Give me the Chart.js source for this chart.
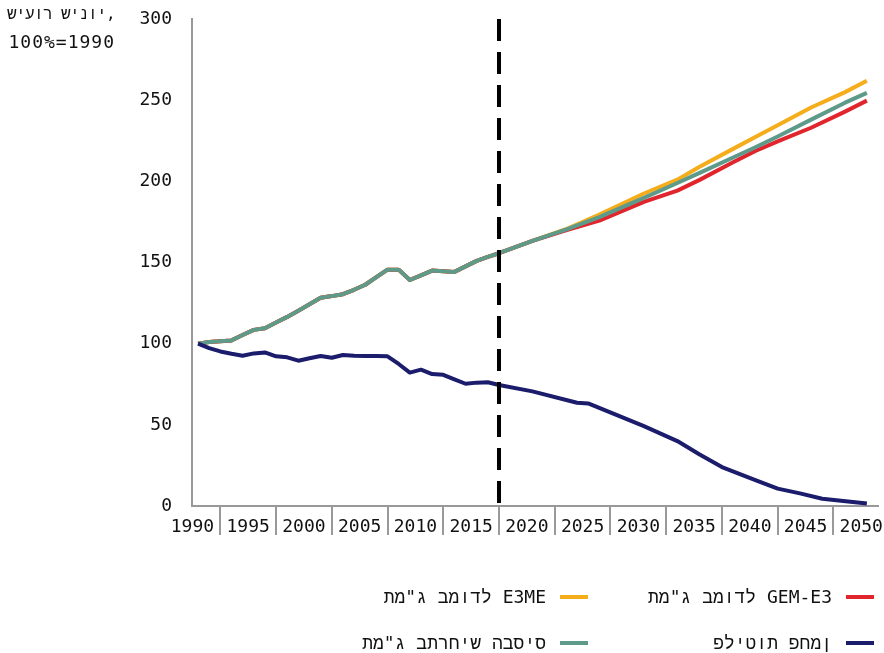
<!DOCTYPE html>
<html lang="he">
<head>
<meta charset="utf-8">
<title>GDP and carbon emissions</title>
<script src="https://cdn.jsdelivr.net/npm/chart.js@4.4.0/dist/chart.umd.min.js"></script>
<style>
  body { margin: 0; background: #fff; font-family: "DejaVu Sans Mono", "Liberation Mono", monospace; color: #111; }
  #wrap { position: relative; width: 884px; height: 653px; }
  #ytitle { position: absolute; right: 769px; top: 0; text-align: right; font-size: 18px; line-height: 28px; white-space: nowrap; }
  #ytitle div { direction: ltr; unicode-bidi: bidi-override; }
  .item { position: absolute; display: flex; align-items: center; font-size: 18px; line-height: 22px; white-space: nowrap; }
  .item .txt { direction: ltr; unicode-bidi: bidi-override; }
  .sw { width: 28px; height: 4px; margin-left: 14px; }
</style>
</head>
<body>
<div id="wrap">
  <canvas id="myChart" width="884" height="653"></canvas>
  <div id="ytitle"><div style="font-size:16px;letter-spacing:-0.6px">שיעור שינוי,</div><div style="letter-spacing:1px">100%=1990</div></div>
  <div id="legend"></div>
</div>
<script>
// historical years, same numbers for all 3 GDP lines
var histYears = [1990,1991,1992,1993,1994,1995,1996,1997,1998,1999,2000,2001,2002,2003,2004,2005,2006,2007,2008,2009,2010,2011,2012,2013,2014,2015,2016,2017]
var gdpHist = [100,101,101.5,102,105.3,108.5,109.5,113,116.5,120.3,124.3,128.3,129.3,130.5,133.2,136.3,141,145.6,145.6,139.2,142.1,145,144.6,144.2,147.6,151,153.5,155.7]
var coalHist = [100,97.3,95.2,93.8,92.6,94,94.6,92.2,91.6,89.5,91,92.4,91.3,93,92.6,92.4,92.4,92.2,87.5,82.2,84,81.3,80.8,78,75.3,76,76.2,74.5]

// projections
var projYears = [2020,2023,2026,2030,2033,2035,2038,2040,2042,2045,2048,2050]
var gdpBase = [163.3,170.2,178,189.8,199,205.2,214.7,221,227.6,238,248.3,254.5]
var gdpE3ME = [163.3,170.5,179.5,192.5,201,209,220,227.3,234.5,245.5,254.8,262]
var gdpGEM = [163.3,169.8,175.8,187.3,194.3,200.9,211.8,218.7,224.6,233,242.8,249.7]
var coalYears = [2020,2024,2025,2030,2033,2035,2037,2040,2042,2044,2046,2050]
var coalProj = [70.6,63.6,63.2,49.2,40,31.7,24,16,10.7,7.8,4.5,1.5]

var tickYears = [1990,1995,2000,2005,2010,2015,2020,2025,2030,2035,2040,2045,2050]
var yTicks = [0,50,100,150,200,250,300]
var splitYear = 2017

function pts(xs, ys) {
  var out = []
  for (var i = 0; i < xs.length; i++) out.push({x: xs[i], y: ys[i]})
  return out
}

var series = [
  {label: 'פליטות פחמן', color: '#1b1c6b', data: pts(histYears, coalHist).concat(pts(coalYears, coalProj))},
  {label: 'תמ"ג בתרחיש הבסיס', color: '#5e9a8a', data: pts(histYears, gdpHist).concat(pts(projYears, gdpBase))},
  {label: 'תמ"ג במודל GEM-E3', color: '#e1252d', data: pts(histYears, gdpHist).concat(pts(projYears, gdpGEM))},
  {label: 'תמ"ג במודל E3ME', color: '#f5ad1c', data: pts(histYears, gdpHist).concat(pts(projYears, gdpE3ME))}
]

var splitLine = {
  id: 'splitLine',
  afterDatasetsDraw: function (chart) {
    var ctx = chart.ctx, area = chart.chartArea
    var x = chart.scales.x.getPixelForValue(splitYear)
    ctx.save()
    ctx.strokeStyle = '#000'
    ctx.lineWidth = 4
    ctx.setLineDash([22, 11])
    ctx.beginPath()
    ctx.moveTo(x, area.top)
    ctx.lineTo(x, area.bottom)
    ctx.stroke()
    ctx.restore()
  }
}

new Chart('myChart', {
  type: 'line',
  data: {
    datasets: series.map(function (s) {
      return {label: s.label, data: s.data, borderColor: s.color, backgroundColor: s.color,
        borderWidth: 4, pointRadius: 0, fill: false, tension: 0, borderJoinStyle: 'round'}
    })
  },
  options: {
    responsive: false,
    animation: false,
    devicePixelRatio: 1,
    layout: {padding: {top: 19, right: 6, left: 0, bottom: 0}},
    plugins: {legend: {display: false}, tooltip: {enabled: false}},
    scales: {
      x: {
        type: 'linear',
        min: 1989.46,
        max: 2051,
        afterBuildTicks: function (axis) {
          // labels sit half a year left of the year, marks fall between them
          axis.ticks = tickYears.map(function (y) { return {value: y - 0.5} })
        },
        afterFit: function (axis) { axis.height = 147; axis.paddingRight = 0 },
        grid: {display: true, drawOnChartArea: false, drawTicks: true, tickLength: 29, offset: true, color: '#999', lineWidth: 2},
        border: {display: true, color: '#999', width: 2},
        ticks: {
          autoSkip: false, maxRotation: 0, padding: -18, color: '#111',
          font: {family: '"DejaVu Sans Mono", monospace', size: 18},
          callback: function (v) { return String(Math.round(v + 0.5)) }
        }
      },
      y: {
        min: 0,
        max: 300,
        afterBuildTicks: function (axis) {
          axis.ticks = yTicks.map(function (v) { return {value: v} })
        },
        afterFit: function (axis) { axis.width = 192; axis.paddingTop = 0; axis.paddingBottom = 0 },
        grid: {display: false, drawTicks: false},
        border: {display: true, color: '#999', width: 2},
        ticks: {padding: 20, color: '#111', font: {family: '"DejaVu Sans Mono", monospace', size: 18}}
      }
    }
  },
  plugins: [splitLine]
})

// legend: two columns, swatch to the right of the text
var legendOrder = [2, 3, 0, 1]
var colRight = [10, 296]
var rowMid = [597, 643]
var legendBox = document.getElementById('legend')
legendOrder.forEach(function (idx, k) {
  var s = series[idx]
  var item = document.createElement('div')
  item.className = 'item'
  item.style.right = colRight[k % 2] + 'px'
  item.style.top = (rowMid[Math.floor(k / 2)] - 11) + 'px'
  item.innerHTML = '<span class="txt"></span><span class="sw" style="background:' + s.color + '"></span>'
  item.firstChild.textContent = s.label
  legendBox.appendChild(item)
})
</script>
</body>
</html>
